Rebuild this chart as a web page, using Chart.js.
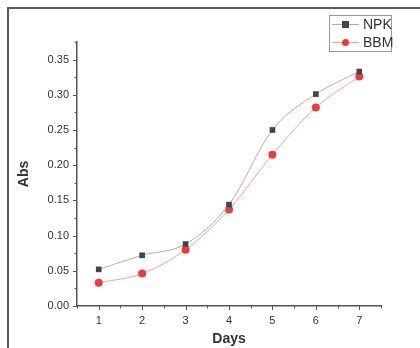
<!DOCTYPE html>
<html>
<head>
<meta charset="utf-8">
<script src="https://cdn.jsdelivr.net/npm/chart.js@4.4.0/dist/chart.umd.min.js"></script>
<style>
  html, body { margin: 0; padding: 0; background: #fff; }
  #wrap { position: relative; width: 420px; height: 348px; }
  #frame { position: absolute; left: 7px; top: 7px; right: 0; bottom: 0;
    border-top: 2px solid #5a5a5a; border-left: 2px solid #5a5a5a; pointer-events: none; }
  canvas { position: absolute; left: 0; top: 0; }
</style>
</head>
<body>
<div id="wrap">
  <canvas id="absChart" width="420" height="348"></canvas>
  <div id="frame"></div>
</div>
<script>
// 日数
var days = [1, 2, 3, 4, 5, 6, 7];
// 吸光度
var npkValues = [0.052, 0.072, 0.088, 0.144, 0.250, 0.301, 0.333];
var bbmValues = [0.033, 0.046, 0.080, 0.137, 0.215, 0.282, 0.326];
var seriesNames = ["NPK", "BBM"];
var yTickLabels = ["0.00", "0.05", "0.10", "0.15", "0.20", "0.25", "0.30", "0.35"];

var axisColor = "#555";
var textColor = "#333";

function toPoints(values) {
  return days.map(function (d, i) {
    return { x: d, y: values[i] };
  });
}

// 目盛りを描く (主目盛り・副目盛り)
var tickMarksPlugin = {
  id: "tickMarks",
  afterDraw: function (chart) {
    var ctx = chart.ctx;
    var xs = chart.scales.x;
    var ys = chart.scales.y;
    ctx.save();
    ctx.strokeStyle = axisColor;
    ctx.lineWidth = 1;
    for (var v = 0.5; v <= 7.5001; v += 0.5) {
      var px = Math.round(xs.getPixelForValue(v)) + 0.5;
      var len = Math.abs(v - Math.round(v)) < 0.01 ? 4 : 2.5;
      ctx.beginPath();
      ctx.moveTo(px, ys.bottom);
      ctx.lineTo(px, ys.bottom + len);
      ctx.stroke();
    }
    for (var k = 0; k <= 15; k++) {
      var val = k * 0.025;
      var py = Math.round(ys.getPixelForValue(val)) + 0.5;
      var l2 = k % 2 === 0 ? 4 : 2.5;
      ctx.beginPath();
      ctx.moveTo(xs.left, py);
      ctx.lineTo(xs.left - l2, py);
      ctx.stroke();
    }
    ctx.restore();
  },
};

// 凡例ボックス
var legendBoxPlugin = {
  id: "legendBox",
  afterDraw: function (chart) {
    var ctx = chart.ctx;
    var bx = 329, by = 15, bw = 62, bh = 36;
    ctx.save();
    ctx.fillStyle = "#fff";
    ctx.fillRect(bx, by, bw, bh);
    ctx.strokeStyle = "#999";
    ctx.lineWidth = 1;
    ctx.strokeRect(bx + 0.5, by + 0.5, bw, bh);
    chart.data.datasets.forEach(function (ds, i) {
      var cy = by + 9 + i * 18;
      ctx.strokeStyle = ds.borderColor;
      ctx.lineWidth = 1.2;
      ctx.beginPath();
      ctx.moveTo(bx + 3, cy + 0.5);
      ctx.lineTo(bx + 30, cy + 0.5);
      ctx.stroke();
      ctx.fillStyle = ds.pointBackgroundColor;
      if (ds.pointStyle === "rect") {
        ctx.fillRect(bx + 13, cy - 3, 7, 7);
      } else {
        ctx.beginPath();
        ctx.arc(bx + 16.5, cy + 0.5, 3.5, 0, Math.PI * 2);
        ctx.fill();
      }
      ctx.fillStyle = textColor;
      ctx.font = "14px 'Liberation Sans', Arial, sans-serif";
      ctx.textBaseline = "middle";
      ctx.fillText(ds.label, bx + 34, cy + 1);
    });
    ctx.restore();
  },
};

var absChartConfig = {
  type: "line",
  data: {
    datasets: [
      {
        label: seriesNames[0],
        data: toPoints(npkValues),
        borderColor: "#b0b0b0",
        borderWidth: 1,
        pointStyle: "rect",
        pointRadius: 4,
        pointBackgroundColor: "#444",
        pointBorderColor: "#444",
        pointBorderWidth: 0,
        cubicInterpolationMode: "monotone",
      },
      {
        label: seriesNames[1],
        data: toPoints(bbmValues),
        borderColor: "#f7a0a0",
        borderWidth: 1,
        pointStyle: "circle",
        pointRadius: 4,
        pointBackgroundColor: "#f03a3a",
        pointBorderColor: "#f03a3a",
        pointBorderWidth: 0,
        cubicInterpolationMode: "monotone",
      },
    ],
  },
  options: {
    responsive: false,
    animation: false,
    layout: {
      padding: { top: 42, right: 39, bottom: 0, left: 16 },
    },
    plugins: {
      legend: { display: false },
      tooltip: { enabled: false },
    },
    scales: {
      x: {
        type: "linear",
        min: 0.5,
        max: 7.5,
        afterBuildTicks: function (scale) {
          scale.ticks = days.map(function (d) {
            return { value: d };
          });
        },
        afterFit: function (scale) {
          scale.height = 42;
        },
        grid: { display: false, drawTicks: false },
        border: { display: true, color: axisColor, width: 1.5 },
        ticks: {
          padding: 8,
          color: textColor,
          font: { family: "'Liberation Sans', Arial, sans-serif", size: 11 },
          callback: function (v) {
            return String(v);
          },
        },
        title: {
          display: true,
          text: "Days",
          color: textColor,
          padding: { top: 0, bottom: 0 },
          font: { family: "'Liberation Sans', Arial, sans-serif", size: 14, weight: "bold" },
        },
      },
      y: {
        min: 0,
        max: 0.375,
        afterBuildTicks: function (scale) {
          scale.ticks = yTickLabels.map(function (t) {
            return { value: parseFloat(t) };
          });
        },
        afterFit: function (scale) {
          scale.width = 61;
        },
        grid: { display: false, drawTicks: false },
        border: { display: true, color: axisColor, width: 1.5 },
        ticks: {
          padding: 8,
          color: textColor,
          font: { family: "'Liberation Sans', Arial, sans-serif", size: 11 },
          callback: function (v, i) {
            return yTickLabels[i];
          },
        },
        title: {
          display: true,
          text: "Abs",
          color: textColor,
          padding: { top: 0, bottom: 0 },
          font: { family: "'Liberation Sans', Arial, sans-serif", size: 14, weight: "bold" },
        },
      },
    },
  },
  plugins: [tickMarksPlugin, legendBoxPlugin],
};

var absChart = new Chart(document.getElementById("absChart"), absChartConfig);
</script>
</body>
</html>
